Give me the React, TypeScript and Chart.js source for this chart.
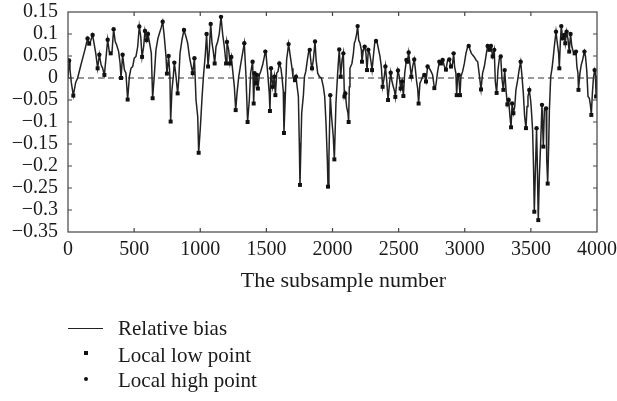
import { useEffect, useRef } from "react";
import { Chart, registerables } from "chart.js";

Chart.register(...registerables);

// [subsample number, relative bias]
const biasSeries: [number, number][] = [
  [0,0],[8,0.04],[15,0.02],[25,-0.01],[40,-0.04],[58,-0.01],[73,0],[98,0.03],[131,0.068],[148,0.09],[160,0.078],[172,0.085],[186,0.098],[198,0.077],[210,0.056],[224,0.022],[237,0.053],[250,0.03],[262,0.022],[275,0.007],[288,0.048],[300,0.087],[312,0.06],[323,0.056],[333,0.06],[345,0.111],[357,0.083],[368,0.075],[383,0.06],[394,0.033],[401,0],[413,0.053],[426,0.019],[438,0.011],[451,-0.049],[464,0.003],[476,0.022],[489,0.026],[501,0.045],[514,0.049],[527,0.071],[539,0.117],[550,0.094],[560,0.048],[572,0.071],[582,0.107],[595,0.086],[605,0.1],[617,0.079],[630,0.056],[640,-0.046],[652,0.003],[665,0.064],[680,0.09],[690,0.1],[705,0.115],[716,0.128],[728,0.094],[741,0.049],[748,0.01],[761,0.05],[771,0.003],[776,-0.099],[786,-0.027],[796,0.003],[804,0.035],[817,0.003],[829,-0.035],[837,-0.005],[847,0.056],[862,0.087],[877,0.109],[892,0.094],[905,0.079],[918,0.049],[930,0.03],[943,0.011],[956,0.045],[968,-0.05],[981,-0.088],[988,-0.17],[1001,-0.111],[1014,-0.042],[1024,0.003],[1039,0.056],[1048,0.1],[1059,0.026],[1069,0.064],[1079,0.123],[1089,0.079],[1099,0.06],[1109,0.033],[1119,0.071],[1132,0.083],[1144,0.101],[1157,0.139],[1170,0.098],[1182,0.071],[1195,0.033],[1202,0.082],[1215,0.064],[1225,0.033],[1235,0.048],[1245,0.018],[1258,-0.02],[1268,-0.073],[1278,-0.035],[1291,0.003],[1303,0.026],[1316,0.049],[1333,0.079],[1346,0.003],[1358,-0.1],[1371,-0.05],[1381,0.011],[1396,0.037],[1404,-0.058],[1411,0.011],[1421,-0.012],[1429,0.007],[1436,-0.024],[1447,0.007],[1457,0.015],[1472,0.03],[1485,0.049],[1492,0.06],[1497,0.056],[1510,0.011],[1522,-0.035],[1527,-0.075],[1535,0.022],[1548,-0.02],[1560,0.003],[1568,-0.039],[1578,0.011],[1588,0.015],[1598,0.033],[1610,0.022],[1618,0.003],[1628,-0.031],[1633,-0.125],[1643,-0.042],[1653,0.041],[1668,0.077],[1681,0.049],[1694,0.022],[1701,0.003],[1716,-0.005],[1724,0.003],[1731,-0.016],[1742,-0.042],[1749,-0.148],[1754,-0.243],[1767,-0.08],[1780,-0.039],[1788,0.003],[1798,0.015],[1810,0.041],[1820,0.06],[1828,0.064],[1838,0.033],[1845,0.022],[1855,0.041],[1868,0.083],[1876,0.041],[1888,0.011],[1901,0.003],[1916,0],[1931,-0.02],[1941,-0.042],[1951,-0.103],[1961,-0.186],[1966,-0.247],[1973,-0.179],[1983,-0.039],[1993,-0.088],[2006,-0.134],[2014,-0.185],[2026,-0.058],[2039,0.011],[2051,0.065],[2062,0.003],[2072,0.041],[2082,0.056],[2090,-0.042],[2097,-0.035],[2107,-0.066],[2117,-0.08],[2122,-0.1],[2127,-0.02],[2132,0.022],[2147,0.033],[2158,0.056],[2165,0.079],[2173,0.086],[2183,0.101],[2190,0.118],[2198,0.086],[2208,0.079],[2218,0.064],[2223,0.037],[2233,0.064],[2243,0.071],[2253,0.056],[2261,0.018],[2271,0.064],[2281,0.056],[2291,0.037],[2299,0.018],[2309,0.049],[2319,0.079],[2329,0.084],[2339,0.079],[2349,0.064],[2359,0.049],[2369,0.026],[2379,-0.02],[2390,-0.001],[2400,0.026],[2410,-0.005],[2420,-0.05],[2430,-0.016],[2440,0.012],[2450,-0.008],[2460,-0.02],[2470,-0.031],[2475,-0.043],[2485,-0.012],[2495,0.017],[2505,0.003],[2515,-0.024],[2526,-0.008],[2536,-0.041],[2546,0.011],[2559,0.041],[2566,0.037],[2576,0.058],[2586,0.03],[2596,0.003],[2606,0.026],[2618,0.042],[2626,0.022],[2636,-0.008],[2644,-0.024],[2651,-0.058],[2661,-0.012],[2671,-0.005],[2681,0.003],[2694,0.007],[2707,-0.008],[2719,0.026],[2732,0.022],[2745,0.015],[2757,0.007],[2770,-0.023],[2782,-0.016],[2795,0.015],[2808,0.037],[2820,0.033],[2833,0.041],[2846,0.026],[2858,0.019],[2871,0.041],[2883,0.042],[2896,0.026],[2908,0.033],[2916,0.056],[2923,0.026],[2933,0.011],[2939,-0.039],[2946,0.003],[2954,0.007],[2964,-0.039],[2971,0.003],[2984,0.015],[2997,0.033],[3009,0.056],[3022,0.071],[3030,0.073],[3040,0.064],[3050,0.056],[3060,0.052],[3072,0.048],[3085,0.041],[3098,0.037],[3110,0.007],[3123,-0.026],[3135,0.011],[3148,0.026],[3160,0.049],[3173,0.073],[3186,0.064],[3198,0.073],[3211,0.049],[3223,0.064],[3231,-0.008],[3241,-0.034],[3251,0.018],[3262,0.045],[3272,0.049],[3282,-0.004],[3292,-0.027],[3302,0.018],[3312,-0.027],[3322,-0.06],[3332,-0.05],[3342,-0.088],[3350,-0.112],[3358,-0.058],[3368,-0.08],[3378,-0.065],[3387,-0.027],[3400,-0.005],[3413,0.022],[3423,0.037],[3433,0.003],[3443,-0.035],[3453,-0.088],[3463,-0.114],[3471,-0.065],[3478,-0.042],[3488,-0.027],[3498,-0.05],[3503,-0.069],[3513,-0.118],[3520,-0.2],[3526,-0.304],[3533,-0.224],[3543,-0.114],[3548,-0.186],[3556,-0.323],[3564,-0.224],[3574,-0.148],[3584,-0.061],[3589,-0.107],[3594,-0.156],[3602,-0.073],[3615,-0.069],[3620,-0.186],[3627,-0.24],[3635,-0.148],[3640,-0.073],[3650,0.003],[3660,0.022],[3670,0.049],[3677,0.071],[3690,0.105],[3700,0.079],[3710,0.056],[3715,0.022],[3723,0.083],[3730,0.118],[3740,0.09],[3753,0.098],[3760,0.079],[3770,0.105],[3780,0.09],[3790,0.06],[3800,0.1],[3810,0.071],[3821,0.06],[3831,0.056],[3841,0.06],[3848,0.026],[3856,0.011],[3860,-0.027],[3871,0.011],[3881,0.03],[3891,0.041],[3905,0.06],[3913,0.049],[3923,0.015],[3932,-0.042],[3942,-0.046],[3950,-0.061],[3957,-0.084],[3965,-0.035],[3973,0],[3982,0.018],[3988,0.011],[3993,-0.042],[4000,0.005]
];

const xRange = [0, 4000];
const xStep = 500;
const yRange = [-0.35, 0.15];
const yStep = 0.05;
const referenceLevel = 0;

const seriesLabels = ["Relative bias", "Local low point", "Local high point"];
const xTitle = "The subsample number";

const FONT = '"Liberation Serif", "Times New Roman", serif';
const INK = "#1a1a1a";

function fmtY(v: number): string {
  const r = Math.round(v * 100) / 100;
  if (r === 0) return "0";
  return (r < 0 ? "\u2212" : "") + String(Math.abs(r));
}

export default function App() {
  const ref = useRef<HTMLCanvasElement | null>(null);

  useEffect(() => {
    if (!ref.current) return;
    const pts = biasSeries.map(([x, y]) => ({ x, y }));
    const lows: { x: number; y: number }[] = [];
    const highs: { x: number; y: number }[] = [];
    for (let i = 1; i < pts.length - 1; i++) {
      const p = pts[i - 1].y, c = pts[i].y, n = pts[i + 1].y;
      if (c > p && c >= n) highs.push(pts[i]);
      else if (c < p && c <= n) lows.push(pts[i]);
    }

    const framePlugin = {
      id: "frameAndLegend",
      afterDraw(chart: any) {
        const { ctx, chartArea } = chart;
        const { left, right, top, bottom } = chartArea;
        const xs = chart.scales.x;
        const ys = chart.scales.y;
        ctx.save();
        ctx.strokeStyle = "#444";
        ctx.lineWidth = 1.2;
        ctx.strokeRect(left, top, right - left, bottom - top);
        ctx.beginPath();
        const tl = 4;
        xs.ticks.forEach((t: any) => {
          const px = xs.getPixelForValue(t.value);
          if (px <= left + 1 || px >= right - 1) return;
          ctx.moveTo(px, bottom);
          ctx.lineTo(px, bottom - tl);
          ctx.moveTo(px, top);
          ctx.lineTo(px, top + tl);
        });
        ys.ticks.forEach((t: any) => {
          const py = ys.getPixelForValue(t.value);
          if (py <= top + 1 || py >= bottom - 1) return;
          ctx.moveTo(left, py);
          ctx.lineTo(left + tl, py);
          ctx.moveTo(right, py);
          ctx.lineTo(right - tl, py);
        });
        ctx.stroke();

        ctx.fillStyle = INK;
        ctx.font = `22px ${FONT}`;
        ctx.textAlign = "center";
        ctx.textBaseline = "alphabetic";
        ctx.fillText(xTitle, (left + right) / 2 + 11, 287);

        ctx.textAlign = "left";
        ctx.font = `21px ${FONT}`;
        const markX = 86;
        const textX = 118;
        ctx.strokeStyle = "#222";
        ctx.lineWidth = 1.2;
        ctx.beginPath();
        ctx.moveTo(68, 328.5);
        ctx.lineTo(103, 328.5);
        ctx.stroke();
        ctx.fillText(seriesLabels[0], textX, 335);
        ctx.fillStyle = "#111";
        ctx.fillRect(markX - 2, 351, 4, 4);
        ctx.fillStyle = INK;
        ctx.fillText(seriesLabels[1], textX, 361.5);
        ctx.fillStyle = "#111";
        ctx.beginPath();
        ctx.arc(markX, 379, 2, 0, Math.PI * 2);
        ctx.fill();
        ctx.fillStyle = INK;
        ctx.fillText(seriesLabels[2], textX, 387);
        ctx.restore();
      },
    };

    const chart = new Chart(ref.current, {
      type: "scatter",
      data: {
        datasets: [
          {
            label: seriesLabels[0],
            data: pts,
            showLine: true,
            borderColor: "#222",
            borderWidth: 1.5,
            pointRadius: 0,
            order: 2,
          },
          {
            label: seriesLabels[1],
            data: lows,
            pointStyle: "rect",
            pointRadius: 2.8,
            backgroundColor: "#111",
            borderColor: "#111",
            borderWidth: 0,
            order: 1,
          },
          {
            label: seriesLabels[2],
            data: highs,
            pointStyle: "circle",
            pointRadius: 2.2,
            backgroundColor: "#111",
            borderColor: "#111",
            borderWidth: 0,
            order: 1,
          },
          {
            label: "zero",
            data: [
              { x: xRange[0], y: referenceLevel },
              { x: xRange[1], y: referenceLevel },
            ],
            showLine: true,
            borderColor: "#333",
            borderWidth: 1,
            borderDash: [6, 4],
            pointRadius: 0,
            order: 3,
          },
        ],
      } as any,
      options: {
        animation: false,
        responsive: true,
        maintainAspectRatio: false,
        layout: { padding: { left: 0, top: 12, right: 20, bottom: 0 } },
        plugins: { legend: { display: false }, tooltip: { enabled: false } },
        scales: {
          x: {
            type: "linear",
            min: xRange[0],
            max: xRange[1],
            grid: { display: false, drawTicks: false },
            border: { display: false },
            ticks: {
              stepSize: xStep,
              autoSkip: false,
              maxRotation: 0,
              padding: 6,
              color: INK,
              font: { family: FONT, size: 20 },
              callback: (v: any) => String(Math.round(Number(v))),
            },
            afterFit: (s: any) => {
              s.height = 169;
              s.paddingLeft = 0;
              s.paddingRight = 0;
            },
          },
          y: {
            type: "linear",
            min: yRange[0],
            max: yRange[1],
            grid: { display: false, drawTicks: false },
            border: { display: false },
            ticks: {
              stepSize: yStep,
              autoSkip: false,
              padding: 10,
              color: INK,
              font: { family: FONT, size: 20 },
              callback: (v: any) => fmtY(Number(v)),
            },
            afterFit: (s: any) => {
              s.width = 68;
              s.paddingTop = 0;
              s.paddingBottom = 0;
            },
          },
        },
      } as any,
      plugins: [framePlugin],
    });
    return () => chart.destroy();
  }, []);

  return (
    <div style={{ position: "absolute", left: 0, top: 0, width: 617, height: 401 }}>
      <canvas ref={ref} />
    </div>
  );
}
